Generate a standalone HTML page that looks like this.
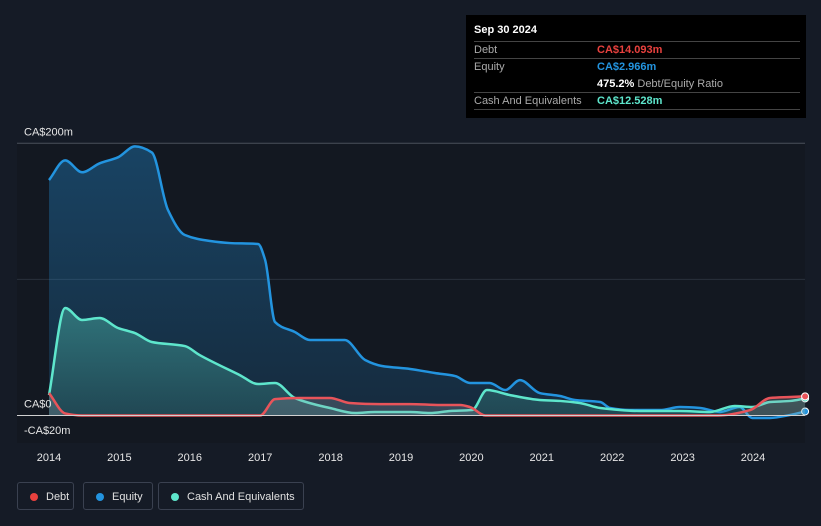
<!DOCTYPE html>
<html><head><meta charset="utf-8">
<style>
body{margin:0;width:821px;height:526px;background:#151b26;font-family:"Liberation Sans",sans-serif;overflow:hidden;position:relative}
svg{position:absolute;left:0;top:0}
.tt{position:absolute;left:466px;top:15px;width:340px;height:103px;background:#000;color:#fff;font-size:11px}
.tt .row{position:absolute;left:8px;width:326px;border-top:1px solid #444;height:17px;line-height:17px}
.lg{position:absolute;top:482px;height:28px;border:1px solid #3a4150;border-radius:3px;color:#e0e0e0;font-size:11px;line-height:28px;box-sizing:border-box;padding-left:28px}
.lg i{position:absolute;left:12px;top:10px;width:8px;height:8px;border-radius:50%}
</style></head><body>
<svg id="chart" width="821" height="526"></svg>
<div class="tt">
<div style="position:absolute;left:8px;top:9px;font-weight:bold">Sep 30 2024</div>
<div class="row" style="top:26px"><span style="color:#aaa">Debt</span><span style="position:absolute;left:123px;color:#e8413e;font-weight:bold">CA$14.093m</span></div>
<div class="row" style="top:43px"><span style="color:#aaa">Equity</span><span style="position:absolute;left:123px;color:#2394df;font-weight:bold">CA$2.966m</span></div>
<div style="position:absolute;left:131px;top:61px;line-height:17px"><b>475.2%</b> <span style="color:#aaa">Debt/Equity Ratio</span></div>
<div class="row" style="top:77px"><span style="color:#aaa">Cash And Equivalents</span><span style="position:absolute;left:123px;color:#5ee6cc;font-weight:bold">CA$12.528m</span></div>
<div class="row" style="top:94px;height:0"></div>
</div>
<div class="lg" style="left:17px;width:57px"><i style="background:#e8413e"></i>Debt</div>
<div class="lg" style="left:83px;width:70px"><i style="background:#2394df"></i>Equity</div>
<div class="lg" style="left:158px;width:146px"><i style="background:#5ee6cc"></i>Cash And Equivalents</div>
<script>
const equityDates=[2014.0,2014.23,2014.47,2014.72,2014.98,2015.22,2015.46,2015.69,2015.93,2016.29,2016.57,2016.97,2017.07,2017.21,2017.49,2017.71,2018.2,2018.49,2018.73,2019.13,2019.48,2019.77,2019.98,2020.26,2020.48,2020.69,2020.97,2021.26,2021.47,2021.83,2021.97,2022.25,2022.68,2022.96,2023.25,2023.53,2023.81,2023.99,2024.24,2024.53,2024.74];
const equityVals=[173,187.5,178.7,185.3,189.7,197.7,193.3,151,132.6,128.2,126.7,126,114.3,68.7,61.4,55.5,55.5,40.8,36.4,34.2,31.2,29,23.9,23.9,18.7,26,16.5,14.3,11.4,9.9,5.5,4,4,6.2,5.5,2.6,6.2,-1.8,-1.8,0.4,2.97];
const cashDates=[2014.0,2014.23,2014.47,2014.72,2014.98,2015.22,2015.46,2015.93,2016.14,2016.71,2016.97,2017.21,2017.49,2017.99,2018.35,2018.63,2019.13,2019.41,2019.7,2020.01,2020.22,2020.55,2020.97,2021.26,2021.54,2021.83,2022.4,2022.96,2023.39,2023.74,2023.99,2024.24,2024.53,2024.74];
const cashVals=[15,79,70.2,71.6,64.3,60.6,54,51,44.4,29.7,23.1,23.9,12.9,5.5,1.8,2.6,2.6,1.8,3.3,4,18.7,15,11.4,10.7,9.2,5.5,3.3,3.3,2.6,7,6.2,9.9,10.7,12.53];
const debtDates=[2014.0,2014.23,2014.47,2017.0,2017.21,2017.56,2017.99,2018.27,2018.7,2019.13,2019.56,2019.84,2019.98,2020.2,2022,2023.5,2023.96,2024.24,2024.53,2024.74];
const debtVals=[16.5,1.5,0,0,12,12.9,12.9,9.2,8.4,8.4,7.7,7.7,6.2,0,0,0,4,12.9,13.6,14.09];
const yTicks=[200,0,-20];
const yTickLabels=["CA$200m","CA$0","-CA$20m"];
const xTicks=[2014,2015,2016,2017,2018,2019,2020,2021,2022,2023,2024];

const svg=document.getElementById('chart');const NS='http://www.w3.org/2000/svg';
const X=t=>49+(t-2014)*70.4;const Y=v=>415.5-v*1.361;
function mk(tag,at,parent){const e=document.createElementNS(NS,tag);for(const k in at)e.setAttribute(k,at[k]);(parent||svg).appendChild(e);return e;}
const defs=mk('defs',{});
defs.innerHTML='<linearGradient id="ge" x1="0" y1="0" x2="0" y2="1"><stop offset="0" stop-color="#2394df" stop-opacity="0.35"/><stop offset="1" stop-color="#2394df" stop-opacity="0.15"/></linearGradient><linearGradient id="gc" x1="0" y1="0" x2="0" y2="1"><stop offset="0" stop-color="#5ee6cc" stop-opacity="0.35"/><stop offset="1" stop-color="#5ee6cc" stop-opacity="0.15"/></linearGradient>';
const bg=mk('rect',{x:17,y:143,width:788,height:300,fill:'#131821'});


[100].forEach(v=>{const g=mk('line',{x1:17,x2:805,y1:Y(v),y2:Y(v),stroke:'#2a303b'});

});
const topLine=mk('line',{x1:17,x2:805,y1:Y(200),y2:Y(200),stroke:'#4a505a'});


function pathD(ds,vs){const p=ds.map((d,i)=>[X(d),Y(vs[i])]);const n=p.length;
const dx=[],m=[];for(let i=0;i<n-1;i++){dx.push(p[i+1][0]-p[i][0]);m.push((p[i+1][1]-p[i][1])/dx[i]);}
const t=[m[0]];for(let i=1;i<n-1;i++){t.push(m[i-1]*m[i]<=0?0:3*(dx[i-1]+dx[i])/((2*dx[i]+dx[i-1])/m[i-1]+(dx[i]+2*dx[i-1])/m[i]));}t.push(m[n-2]);
let s='M'+p[0][0]+','+p[0][1];
for(let i=0;i<n-1;i++){const h=dx[i]/3;s+=' C'+(p[i][0]+h)+','+(p[i][1]+t[i]*h)+' '+(p[i+1][0]-h)+','+(p[i+1][1]-t[i+1]*h)+' '+p[i+1][0]+','+p[i+1][1];}
return s;}
function series(ds,vs,color,fill,name){const d=pathD(ds,vs);
const a=mk('path',{d:d+' L'+X(ds[ds.length-1])+','+Y(0)+' L'+X(ds[0])+','+Y(0)+'Z',fill:fill});


const l=mk('path',{d:d,fill:'none',stroke:color,'stroke-width':2.5});


const c=mk('circle',{cx:X(ds[ds.length-1]),cy:Y(vs[vs.length-1]),r:3.5,fill:color,stroke:'#fff','stroke-width':1});

}
series(equityDates,equityVals,'#2394df','url(#ge)','equity');
series(cashDates,cashVals,'#5ee6cc','url(#gc)','cash');
series(debtDates,debtVals,'#e8545a','rgba(160,160,170,0.25)','debt');
const z=mk('line',{x1:17,x2:805,y1:Y(0),y2:Y(0),stroke:'#d0d0d0','stroke-width':1});


yTicks.forEach((v,i)=>{const t=mk('text',{x:24,y:v<0?434:Y(v)-8,fill:'#e6e6e6','font-size':11});t.textContent=yTickLabels[i];

});
xTicks.forEach(v=>{const t=mk('text',{x:X(v),y:461,fill:'#e6e6e6','font-size':11,'text-anchor':'middle'});t.textContent=v;

});
</script>
</body></html>
